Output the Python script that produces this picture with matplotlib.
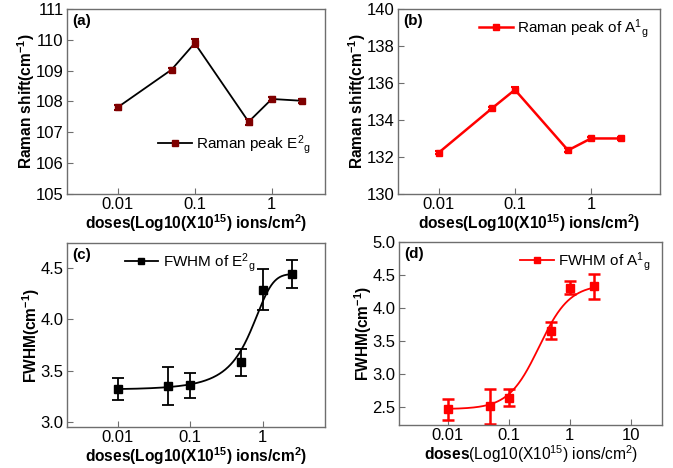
import numpy as np
import matplotlib
matplotlib.use("Agg")
import matplotlib.pyplot as plt
from matplotlib.ticker import FixedLocator, NullLocator, FixedFormatter, FormatStrFormatter

plt.rcParams['font.family'] = ['Liberation Sans', 'DejaVu Sans']
plt.rcParams['mathtext.fontset'] = 'custom'
plt.rcParams['mathtext.rm'] = 'Liberation Sans'
plt.rcParams['mathtext.it'] = 'Liberation Sans'
plt.rcParams['mathtext.bf'] = 'Liberation Sans:bold'

# ---- data ----
doses = [0.01, 0.05, 0.1, 0.5, 1, 2.5]
raman_e2g = [107.81, 109.03, 109.89, 107.34, 108.08, 108.02]
raman_e2g_err = [0.09, 0.07, 0.14, 0.09, 0.07, 0.06]
raman_a1g = [132.24, 134.63, 135.63, 132.36, 133.0, 133.0]
raman_a1g_err = [0.10, 0.08, 0.13, 0.10, 0.08, 0.08]
fwhm_e2g = [3.32, 3.35, 3.356, 3.58, 4.29, 4.44]
fwhm_e2g_err = [0.105, 0.185, 0.12, 0.13, 0.20, 0.137]
fwhm_a1g = [2.47, 2.51, 2.64, 3.66, 4.31, 4.33]
fwhm_a1g_err = [0.16, 0.26, 0.13, 0.13, 0.10, 0.19]

# Boltzmann fit parameters
fit_c = dict(A1=3.163, A2=4.443, x0=0.6, dx=0.3)          # linear dose
fit_d = dict(A1=2.47, A2=4.36, x0=-0.5, dx=0.25)          # log10 dose

def boltz(x, A1, A2, x0, dx):
    return A2 + (A1 - A2) / (1 + np.exp((x - x0) / dx))

DARKRED = '#7f0000'
RED = '#ff0000'
SPINE = '#6e6e6e'
TICK_FS = 12
LABEL_FS = 11.2
LEG_FS = 11

fig = plt.figure(figsize=(6.73, 4.68), dpi=100)

def style(ax, xlim, ylim, yticks, xticks, xticklabels, ylabel, xlabel_bold=True):
    ax.set_xscale('log')
    ax.set_xlim(*xlim)
    ax.set_ylim(*ylim)
    ax.xaxis.set_major_locator(FixedLocator(xticks))
    ax.xaxis.set_major_formatter(FixedFormatter(xticklabels))
    ax.xaxis.set_minor_locator(NullLocator())
    ax.set_yticks(yticks)
    ax.tick_params(direction='in', length=4, width=0.8, color=SPINE,
                   labelsize=TICK_FS, pad=2.5)
    for s in ax.spines.values():
        s.set_color(SPINE)
        s.set_linewidth(1.0)
    ax.set_ylabel(ylabel, fontsize=LABEL_FS, fontweight='bold', labelpad=-1)
    if xlabel_bold:
        ax.set_xlabel(r'doses(Log10(X10$^{\mathbf{15}}$) ions/cm$^{\mathbf{2}}$)',
                      fontsize=LABEL_FS, fontweight='bold', labelpad=0)
    else:
        ax.set_xlabel(r'$\mathbf{doses}$(Log10(X10$^{15}$) ions/cm$^{2}$)',
                      fontsize=LABEL_FS, labelpad=0)

def panel(ax, s):
    ax.text(0.02, 0.975, s, transform=ax.transAxes, fontsize=11,
            fontweight='bold', va='top', ha='left')

# (a)
ax = fig.add_axes([0.0996, 0.5855, 0.3833, 0.3955])
ax.plot(doses, raman_e2g, '-', color='black', lw=1.3, zorder=2)
ax.errorbar(doses, raman_e2g, yerr=raman_e2g_err, fmt='s', color=DARKRED,
            ms=5, capsize=3, elinewidth=1.5, capthick=1.5, zorder=3)
h, = ax.plot([], [], '-s', color='black', mfc=DARKRED, mec=DARKRED, ms=5, lw=1.3)
ax.legend([h], [r'Raman peak E$^{2}{}_{g}$'], loc='lower right',
          bbox_to_anchor=(1.0, 0.13), frameon=False, fontsize=LEG_FS,
          handlelength=2.2, handletextpad=0.3)
style(ax, (0.0022, 4.9), (105, 111), range(105, 112), [0.01, 0.1, 1],
      ['0.01', '0.1', '1'], r'Raman shift(cm$^{\mathbf{-1}}$)')
panel(ax, '(a)')

# (b)
ax = fig.add_axes([0.5914, 0.5855, 0.3893, 0.3955])
ax.errorbar(doses, raman_a1g, yerr=raman_a1g_err, fmt='-s', color=RED,
            ms=4, lw=1.8, capsize=3, elinewidth=1.5, capthick=1.5)
h, = ax.plot([], [], '-s', color=RED, ms=4, lw=1.8)
ax.legend([h], [r'Raman peak of A$^{1}{}_{g}$'], loc='upper right',
          bbox_to_anchor=(1.01, 1.03), frameon=False, fontsize=LEG_FS,
          handlelength=2.2, handletextpad=0.3)
style(ax, (0.0029, 8.1), (130, 140), range(130, 141, 2), [0.01, 0.1, 1],
      ['0.01', '0.1', '1'], r'Raman shift(cm$^{\mathbf{-1}}$)')
panel(ax, '(b)')

# (c)
ax = fig.add_axes([0.0996, 0.0876, 0.3833, 0.3932])
xs = np.logspace(np.log10(doses[0]), np.log10(doses[-1]), 300)
ax.plot(xs, boltz(xs, **fit_c), '-', color='black', lw=1.3)
ax.errorbar(doses, fwhm_e2g, yerr=fwhm_e2g_err, fmt='s', color='black',
            ms=6, capsize=4, elinewidth=1.3, capthick=1.3)
h, = ax.plot([], [], '-s', color='black', ms=5, lw=1.3)
ax.legend([h], [r'FWHM of E$^{2}{}_{g}$'], loc='upper left',
          bbox_to_anchor=(0.17, 1.03), frameon=False, fontsize=LEG_FS,
          handlelength=2.2, handletextpad=0.3)
style(ax, (0.002, 7.2), (2.95, 4.745), [3.0, 3.5, 4.0, 4.5], [0.01, 0.1, 1],
      ['0.01', '0.1', '1'], r'FWHM(cm$^{\mathbf{-1}}$)')
ax.yaxis.set_major_formatter(FormatStrFormatter('%.1f'))
panel(ax, '(c)')

# (d)
ax = fig.add_axes([0.593, 0.0919, 0.391, 0.391])
ax.plot(xs, boltz(np.log10(xs), **fit_d), '-', color=RED, lw=1.3)
ax.errorbar(doses, fwhm_a1g, yerr=fwhm_a1g_err, fmt='s', color=RED,
            ms=6, capsize=4, elinewidth=1.8, capthick=1.8)
h, = ax.plot([], [], '-s', color=RED, ms=5, lw=1.3)
ax.legend([h], [r'FWHM of A$^{1}{}_{g}$'], loc='upper right',
          bbox_to_anchor=(1.01, 1.03), frameon=False, fontsize=LEG_FS,
          handlelength=2.2, handletextpad=0.3)
style(ax, (0.0016, 33), (2.23, 5.0), [2.5, 3.0, 3.5, 4.0, 4.5, 5.0],
      [0.01, 0.1, 1, 10], ['0.01', '0.1', '1', '10'],
      r'FWHM(cm$^{\mathbf{-1}}$)', xlabel_bold=False)
ax.yaxis.set_major_formatter(FormatStrFormatter('%.1f'))
panel(ax, '(d)')

fig.savefig('out.png', dpi=100)
